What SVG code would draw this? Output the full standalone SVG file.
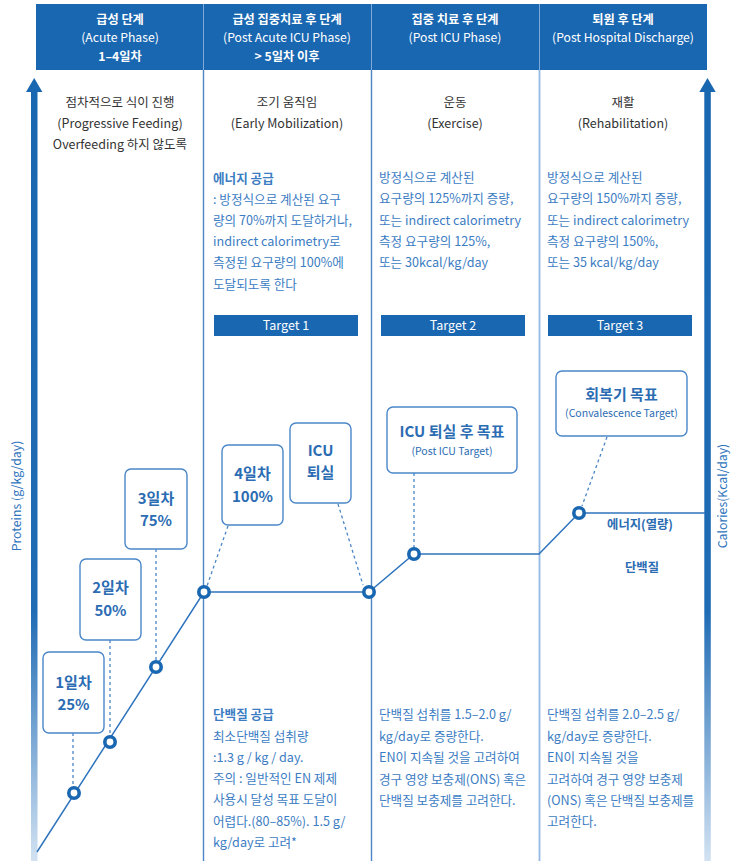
<svg xmlns="http://www.w3.org/2000/svg" width="731" height="861" viewBox="0 0 731 861">
  <defs>
    <linearGradient id="axisFade" gradientUnits="userSpaceOnUse" x1="0" y1="78" x2="0" y2="861">
      <stop offset="0" stop-color="#1a67b1"/>
      <stop offset="0.68" stop-color="#1f6bb4"/>
      <stop offset="1" stop-color="#d2e2f2"/>
    </linearGradient>
    <style>
      text { font-family: "Noto Sans CJK KR", "Noto Sans", sans-serif; }
      .hd { fill: #ffffff; font-size: 12.2px; text-anchor: middle; }
      .hdb { font-weight: bold; }
      .phase { fill: #333333; font-size: 12.5px; text-anchor: middle; }
      .note { fill: #3b7cc3; font-size: 12.6px; }
      .noteb { font-weight: bold; }
      .tgt { fill: #1a67b1; }
      .tgtx { fill: #ffffff; font-size: 12.5px; text-anchor: middle; }
      .box { fill: #ffffff; stroke: #4a86c8; stroke-width: 1.4; }
      .bx { fill: #2b6cb3; font-size: 15px; font-weight: bold; text-anchor: middle; }
      .bxs { fill: #2b6cb3; font-size: 10.5px; text-anchor: middle; }
      .dot { fill: #ffffff; stroke: #1a67b1; stroke-width: 3.6; }
      .lead { stroke: #4a86c8; stroke-width: 1.3; stroke-dasharray: 3 3; fill: none; }
      .axlab { fill: #2f74bd; font-size: 12.3px; text-anchor: middle; }
      .series { fill: #2b6cb3; font-size: 12.3px; font-weight: bold; text-anchor: middle; }
    </style>
  </defs>

  <!-- phase header band -->
  <g id="header">
    <rect x="36" y="4" width="671" height="66" fill="#1a67b1"/>
    <line x1="203.5" y1="4" x2="203.5" y2="70" stroke="#7ea9da" stroke-width="1"/>
    <line x1="371.5" y1="4" x2="371.5" y2="70" stroke="#7ea9da" stroke-width="1"/>
    <line x1="539.5" y1="4" x2="539.5" y2="70" stroke="#7ea9da" stroke-width="1"/>
    <text class="hd hdb" x="120" y="24">급성 단계</text>
    <text class="hd" x="120" y="41.5">(Acute Phase)</text>
    <text class="hd hdb" x="120" y="61">1–4일차</text>
    <text class="hd hdb" x="287" y="24">급성 집중치료 후 단계</text>
    <text class="hd" x="287" y="41.5">(Post Acute ICU Phase)</text>
    <text class="hd hdb" x="287" y="61">&gt; 5일차 이후</text>
    <text class="hd hdb" x="455" y="24">집중 치료 후 단계</text>
    <text class="hd" x="455" y="41.5">(Post ICU Phase)</text>
    <text class="hd hdb" x="623" y="24">퇴원 후 단계</text>
    <text class="hd" x="623" y="41.5">(Post Hospital Discharge)</text>
  </g>

  <!-- column dividers -->
  <g id="dividers">
    <line x1="203.5" y1="70" x2="203.5" y2="861" stroke="#4a86c8" stroke-width="1.4"/>
    <line x1="371.5" y1="70" x2="371.5" y2="861" stroke="#4a86c8" stroke-width="1.4"/>
    <line x1="539.5" y1="70" x2="539.5" y2="861" stroke="#94b9e2" stroke-width="1.8"/>
  </g>

  <!-- axes -->
  <g id="axis-protein">
    <rect x="31" y="91" width="6.5" height="770" fill="url(#axisFade)"/>
    <polygon points="34.2,78 26,92 42.4,92" fill="#1a67b1"/>
    <text class="axlab" transform="translate(21,496) rotate(-90)">Proteins (g/kg/day)</text>
  </g>
  <g id="axis-calorie">
    <rect x="704.3" y="91" width="6.5" height="770" fill="url(#axisFade)"/>
    <polygon points="707.5,78 699.3,92 715.7,92" fill="#1a67b1"/>
    <text class="axlab" transform="translate(727,496) rotate(-90)">Calories(Kcal/day)</text>
  </g>

  <!-- phase activities -->
  <g id="phase-1">
    <text class="phase" x="120" y="107">점차적으로 식이 진행</text>
    <text class="phase" x="120" y="128">(Progressive Feeding)</text>
    <text class="phase" x="120" y="149">Overfeeding 하지 않도록</text>
  </g>
  <g id="phase-2">
    <text class="phase" x="287" y="107">조기 움직임</text>
    <text class="phase" x="287" y="128">(Early Mobilization)</text>
  </g>
  <g id="phase-3">
    <text class="phase" x="455" y="107">운동</text>
    <text class="phase" x="455" y="128">(Exercise)</text>
  </g>
  <g id="phase-4">
    <text class="phase" x="623" y="107">재활</text>
    <text class="phase" x="623" y="128">(Rehabilitation)</text>
  </g>

  <!-- energy notes -->
  <g id="energy-2">
    <text class="note noteb" x="213" y="183">에너지 공급</text>
    <text class="note" x="213" y="204">: 방정식으로 계산된 요구</text>
    <text class="note" x="213" y="225">량의 70%까지 도달하거나,</text>
    <text class="note" x="213" y="246">indirect calorimetry로</text>
    <text class="note" x="213" y="267">측정된 요구량의 100%에</text>
    <text class="note" x="213" y="289">도달되도록 한다</text>
  </g>
  <g id="energy-3">
    <text class="note" x="379" y="182">방정식으로 계산된</text>
    <text class="note" x="379" y="203">요구량의 125%까지 증량,</text>
    <text class="note" x="379" y="225">또는 indirect calorimetry</text>
    <text class="note" x="379" y="246">측정 요구량의 125%,</text>
    <text class="note" x="379" y="267">또는 30kcal/kg/day</text>
  </g>
  <g id="energy-4">
    <text class="note" x="547" y="182">방정식으로 계산된</text>
    <text class="note" x="547" y="203">요구량의 150%까지 증량,</text>
    <text class="note" x="547" y="225">또는 indirect calorimetry</text>
    <text class="note" x="547" y="246">측정 요구량의 150%,</text>
    <text class="note" x="547" y="267">또는 35 kcal/kg/day</text>
  </g>

  <!-- target bars -->
  <g id="target-1">
    <rect class="tgt" x="214" y="315" width="144" height="21"/>
    <text class="tgtx" x="286" y="330">Target 1</text>
  </g>
  <g id="target-2">
    <rect class="tgt" x="381" y="315" width="144" height="21"/>
    <text class="tgtx" x="453" y="330">Target 2</text>
  </g>
  <g id="target-3">
    <rect class="tgt" x="548" y="315" width="144" height="21"/>
    <text class="tgtx" x="620" y="330">Target 3</text>
  </g>

  <!-- leader lines and intake curve -->
  <g id="connectors">
    <line class="lead" x1="73" y1="733" x2="73" y2="787"/>
    <line class="lead" x1="110" y1="640" x2="110" y2="737"/>
    <line class="lead" x1="156" y1="549" x2="156" y2="661"/>
    <line class="lead" x1="228" y1="526" x2="207" y2="586"/>
    <line class="lead" x1="338" y1="504" x2="363" y2="585"/>
    <line class="lead" x1="414" y1="473" x2="414" y2="548"/>
    <line class="lead" x1="607" y1="437" x2="582" y2="506"/>
    <polyline points="37,852 204,592 369,592 414,554 539,554 579,513 705,513" fill="none" stroke="#2f74bd" stroke-width="1.5"/>
  </g>

  <!-- milestone points -->
  <g id="points">
    <circle class="dot" cx="74" cy="793" r="5.2"/>
    <circle class="dot" cx="110" cy="742" r="5.2"/>
    <circle class="dot" cx="156" cy="667" r="5.2"/>
    <circle class="dot" cx="204" cy="592" r="5.2"/>
    <circle class="dot" cx="369" cy="592" r="5.2"/>
    <circle class="dot" cx="414" cy="554" r="5.2"/>
    <circle class="dot" cx="579" cy="513" r="5.2"/>
  </g>

  <!-- milestone boxes -->
  <g id="day-1">
    <rect class="box" x="43" y="652" width="61" height="81" rx="6"/>
    <text class="bx" x="73.5" y="688">1일차</text>
    <text class="bx" x="73.5" y="710">25%</text>
  </g>
  <g id="day-2">
    <rect class="box" x="80" y="559" width="61" height="81" rx="6"/>
    <text class="bx" x="110.5" y="593">2일차</text>
    <text class="bx" x="110.5" y="616">50%</text>
  </g>
  <g id="day-3">
    <rect class="box" x="125" y="469" width="62" height="80" rx="6"/>
    <text class="bx" x="156" y="504">3일차</text>
    <text class="bx" x="156" y="526">75%</text>
  </g>
  <g id="day-4">
    <rect class="box" x="222" y="445" width="61" height="80" rx="6"/>
    <text class="bx" x="252.5" y="479">4일차</text>
    <text class="bx" x="252.5" y="502">100%</text>
  </g>
  <g id="icu-discharge">
    <rect class="box" x="290" y="423" width="61" height="80" rx="6"/>
    <text class="bx" x="320.5" y="456">ICU</text>
    <text class="bx" x="320.5" y="478">퇴실</text>
  </g>
  <g id="post-icu-target">
    <rect class="box" x="387" y="407" width="130" height="66" rx="6"/>
    <text class="bx" x="452" y="437">ICU 퇴실 후 목표</text>
    <text class="bxs" x="452" y="455">(Post ICU Target)</text>
  </g>
  <g id="convalescence-target">
    <rect class="box" x="556" y="371" width="131" height="65" rx="6"/>
    <text class="bx" x="621.5" y="400">회복기 목표</text>
    <text class="bxs" x="621.5" y="417">(Convalescence Target)</text>
  </g>

  <!-- series labels -->
  <g id="series-labels">
    <text class="series" x="640" y="529">에너지(열량)</text>
    <text class="series" x="642" y="572">단백질</text>
  </g>

  <!-- protein notes -->
  <g id="protein-2">
    <text class="note noteb" x="213" y="719">단백질 공급</text>
    <text class="note" x="213" y="741">최소단백질 섭취량</text>
    <text class="note" x="213" y="762">:1.3 g / kg / day.</text>
    <text class="note" x="213" y="783">주의 : 일반적인 EN 제제</text>
    <text class="note" x="213" y="804">사용시 달성 목표 도달이</text>
    <text class="note" x="213" y="826">어렵다.(80–85%). 1.5 g/</text>
    <text class="note" x="213" y="847">kg/day로 고려*</text>
  </g>
  <g id="protein-3">
    <text class="note" x="379" y="719">단백질 섭취를 1.5–2.0 g/</text>
    <text class="note" x="379" y="741">kg/day로 증량한다.</text>
    <text class="note" x="379" y="762">EN이 지속될 것을 고려하여</text>
    <text class="note" x="379" y="784">경구 영양 보충제(ONS) 혹은</text>
    <text class="note" x="379" y="805">단백질 보충제를 고려한다.</text>
  </g>
  <g id="protein-4">
    <text class="note" x="547" y="719">단백질 섭취를 2.0–2.5 g/</text>
    <text class="note" x="547" y="741">kg/day로 증량한다.</text>
    <text class="note" x="547" y="762">EN이 지속될 것을</text>
    <text class="note" x="547" y="784">고려하여 경구 영양 보충제</text>
    <text class="note" x="547" y="805">(ONS) 혹은 단백질 보충제를</text>
    <text class="note" x="547" y="826">고려한다.</text>
  </g>
</svg>
